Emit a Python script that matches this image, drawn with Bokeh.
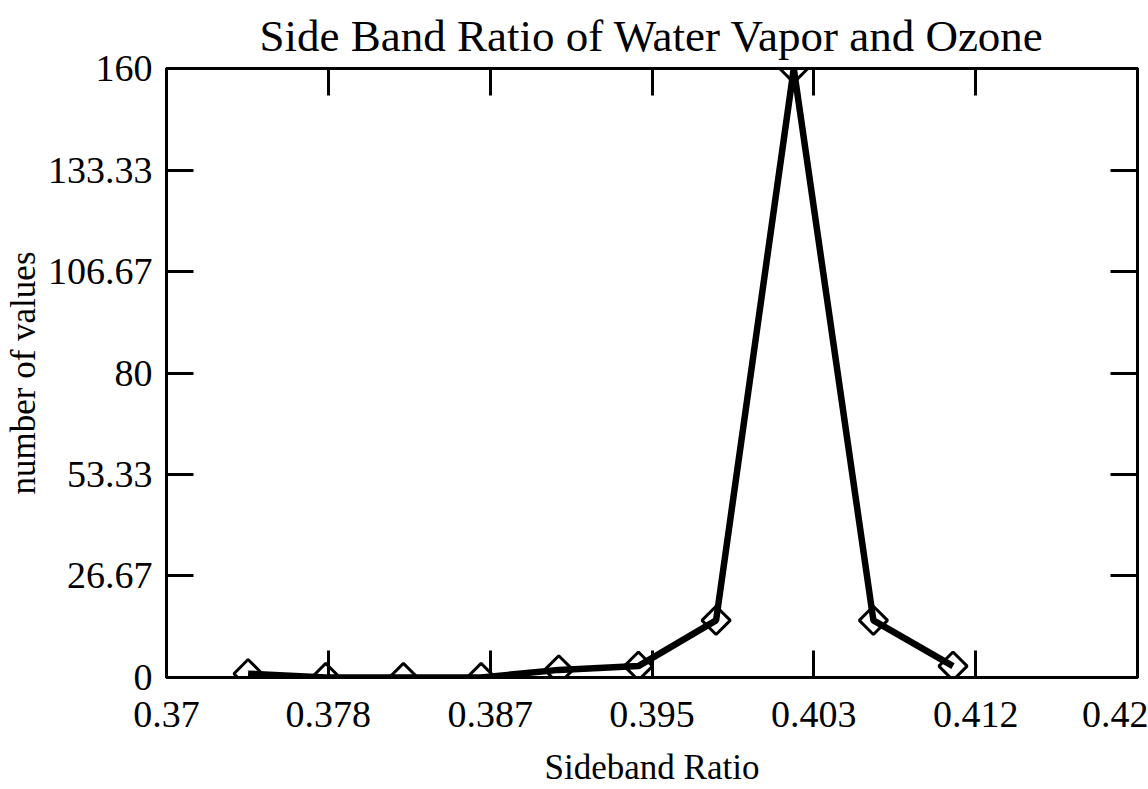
import math
from bokeh.plotting import figure
from bokeh.models import FixedTicker, LinearAxis, Range1d
from bokeh.embed import file_html
from bokeh.resources import INLINE

# data
sideband_ratio = [0.3742, 0.3782, 0.3822, 0.3862, 0.3902, 0.3943, 0.3983, 0.4023, 0.4064, 0.4105]
number_of_values = [1, 0, 0, 0, 2, 3, 15, 160, 15, 3]

x_tick_values = [0.37, 0.378333, 0.386667, 0.395, 0.403333, 0.411667, 0.42]
x_tick_labels = ["0.37", "0.378", "0.387", "0.395", "0.403", "0.412", "0.42"]
y_tick_values = [0, 26.6667, 53.3333, 80, 106.6667, 133.3333, 160]
y_tick_labels = ["0", "26.67", "53.33", "80", "106.67", "133.33", "160"]

FONT = "Liberation Serif"
TICK_FS = "38px"
AXLAB_FS = "35px"

p = figure(width=1148, height=789, output_backend="svg", toolbar_location=None,
           x_range=Range1d(x_tick_values[0], x_tick_values[-1]),
           y_range=Range1d(y_tick_values[0], y_tick_values[-1]),
           min_border_left=164, min_border_right=11, min_border_top=68, min_border_bottom=111,
           title="Side Band Ratio of Water Vapor and Ozone")

p.title.text_font = FONT
p.title.text_font_size = "45px"
p.title.text_font_style = "normal"
p.title.align = "center"
p.title.text_color = "black"
p.title.standoff = 15

p.grid.visible = False
p.outline_line_color = "black"
p.outline_line_width = 3
p.background_fill_color = "white"
p.border_fill_color = "white"

def style_axis(ax, labels):
    ax.axis_line_color = "black"
    ax.axis_line_width = 3
    ax.major_tick_line_color = "black"
    ax.major_tick_line_width = 3
    ax.major_tick_in = 27
    ax.major_tick_out = 0
    ax.minor_tick_line_color = None
    ax.major_label_text_font = FONT
    ax.major_label_text_font_size = TICK_FS
    ax.major_label_text_color = "black"
    ax.axis_label_text_font = FONT
    ax.axis_label_text_font_size = AXLAB_FS
    ax.axis_label_text_font_style = "normal"
    ax.axis_label_text_color = "black"
    if not labels:
        ax.major_label_text_font_size = "0px"
        ax.major_label_text_color = None
        ax.major_label_standoff = 0

xb = p.xaxis[0]
xb.ticker = FixedTicker(ticks=x_tick_values)
xb.major_label_overrides = dict(zip(x_tick_values, x_tick_labels))
xb.axis_label = "Sideband Ratio"
style_axis(xb, True)
xb.major_label_standoff = 24
xb.axis_label_standoff = 18

yl = p.yaxis[0]
yl.ticker = FixedTicker(ticks=y_tick_values)
yl.major_label_overrides = dict(zip(y_tick_values, y_tick_labels))
yl.axis_label = "number of values"
style_axis(yl, True)
yl.major_label_standoff = 14
yl.axis_label_standoff = 2

xt = LinearAxis(ticker=FixedTicker(ticks=x_tick_values))
style_axis(xt, False)
p.add_layout(xt, "above")

yr = LinearAxis(ticker=FixedTicker(ticks=y_tick_values))
style_axis(yr, False)
p.add_layout(yr, "right")

p.line(sideband_ratio, number_of_values, line_color="black", line_width=6.5)
p.scatter(sideband_ratio, number_of_values, marker="square", angle=math.pi / 4, size=20,
          fill_alpha=0, line_color="black", line_width=3)

open("out.html", "w").write(file_html(p, INLINE))
